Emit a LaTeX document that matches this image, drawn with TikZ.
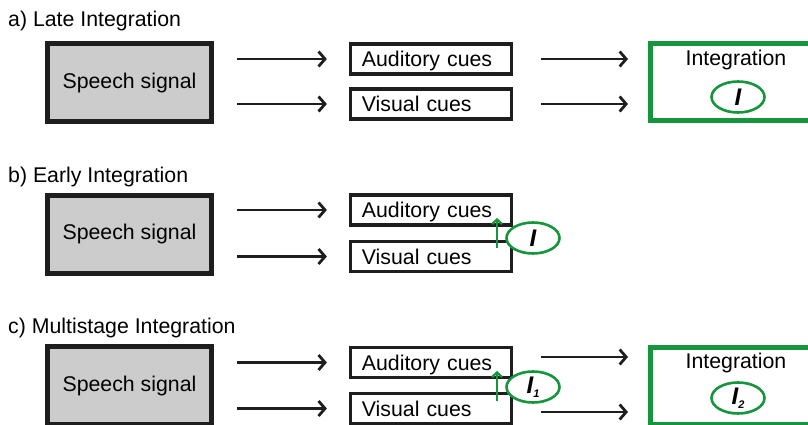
\documentclass[tikz,border=0pt]{standalone}
\usepackage{fontspec}
\setmainfont{Liberation Sans}
\usetikzlibrary{arrows.meta,shapes.geometric}
\definecolor{igreen}{RGB}{22,150,60}
\definecolor{sgray}{RGB}{204,204,204}
\definecolor{ink}{RGB}{30,30,30}
\newcommand{\subidx}[1]{\raisebox{-0.35ex}{\fontsize{11}{11}\selectfont #1}}
\begin{document}
\begin{tikzpicture}[x=1pt,y=-1pt,
  font=\fontsize{21.3}{24}\selectfont,
  speech/.style={draw=ink, fill=sgray, line width=5pt, minimum width=164pt, minimum height=78pt, inner sep=0pt},
  cue/.style={draw=ink, line width=3.5pt, text width=138.25pt, align=left, inner xsep=11.25pt, inner ysep=0pt, minimum height=30pt, text height=15.3pt, text depth=0pt},
  integ/.style={draw=igreen, line width=5pt, minimum width=171pt, minimum height=77pt, inner sep=0pt},
  ell/.style={draw=igreen, fill=white, ellipse, line width=2.6pt, minimum width=53pt, minimum height=31pt, inner sep=0pt, font=\fontsize{24}{24}\selectfont\bfseries\itshape},
  lbl/.style={anchor=base west, inner sep=0pt},
  arr/.style={line width=2.8pt, draw=ink, -{Straight Barb[length=6.5pt,width=15pt,line width=2.8pt]}},
  garr/.style={line width=2.3pt, draw=igreen, -{Straight Barb[length=4.5pt,width=10pt,line width=2.3pt]}}
]
\useasboundingbox (0,0) rectangle (808,425);

% ---------- a) Late Integration
\node[lbl] (la) at (8,27) {a) Late Integration};
\node[speech] (sa) at (129.5,82.5) {Speech signal};
\node[cue] (aa) at (431,59) {Auditory cues};
\node[cue] (va) at (431,104) {Visual cues};
\node[integ] (ia) at (736,82) {};
\node (ta) at (736,59.5) {Integration};
\node[ell] (ea) at (738,97) {I};
\draw[arr, shorten <=23pt, shorten >=22pt] (sa.east |- aa.west) -- (aa.west);
\draw[arr, shorten <=23pt, shorten >=22pt] (sa.east |- va.west) -- (va.west);
\draw[arr, shorten <=28pt, shorten >=20pt] (aa.east) -- (ia.west |- aa.east);
\draw[arr, shorten <=28pt, shorten >=20pt] (va.east) -- (ia.west |- va.east);

% ---------- b) Early Integration
\node[lbl] (lb) at (8,182) {b) Early Integration};
\node[speech] (sb) at (129.5,234) {Speech signal};
\node[cue] (ab) at (431,210) {Auditory cues};
\node[cue] (vb) at (431,256.5) {Visual cues};
\draw[arr, shorten <=23pt, shorten >=22pt] (sb.east |- ab.west) -- (ab.west);
\draw[arr, shorten <=23pt, shorten >=22pt] (sb.east |- vb.west) -- (vb.west);
\coordinate (gb1) at (497,248);
\coordinate (gb2) at (497,218);
\draw[garr] (gb1) -- (gb2);
\node[ell] (eb) at (533,238) {I};

% ---------- c) Multistage Integration
\node[lbl] (lc) at (8,333) {c) Multistage Integration};
\node[speech] (sc) at (129.5,385.5) {Speech signal};
\node[cue] (ac) at (431,362.5) {Auditory cues};
\node[cue] (vc) at (431,408.5) {Visual cues};
\node[integ] (ic) at (736,386) {};
\node (tc) at (736,362.5) {Integration};
\draw[arr, shorten <=23pt, shorten >=22pt] (sc.east |- ac.west) -- (ac.west);
\draw[arr, shorten <=23pt, shorten >=22pt] (sc.east |- vc.west) -- (vc.west);
\coordinate (ac2) at ([yshift=5.5pt]ac.east);
\coordinate (vc2) at ([yshift=-3.5pt]vc.east);
\draw[arr, shorten <=28pt, shorten >=20pt] (ac2) -- (ic.west |- ac2);
\draw[arr, shorten <=28pt, shorten >=20pt] (vc2) -- (ic.west |- vc2);
\coordinate (gc1) at (497,401);
\coordinate (gc2) at (497,371);
\draw[garr] (gc1) -- (gc2);
\node[ell] (ec1) at (533,387) {I\subidx{1}};
\node[ell] (ec2) at (738,398) {I\subidx{2}};
\end{tikzpicture}
\end{document}
